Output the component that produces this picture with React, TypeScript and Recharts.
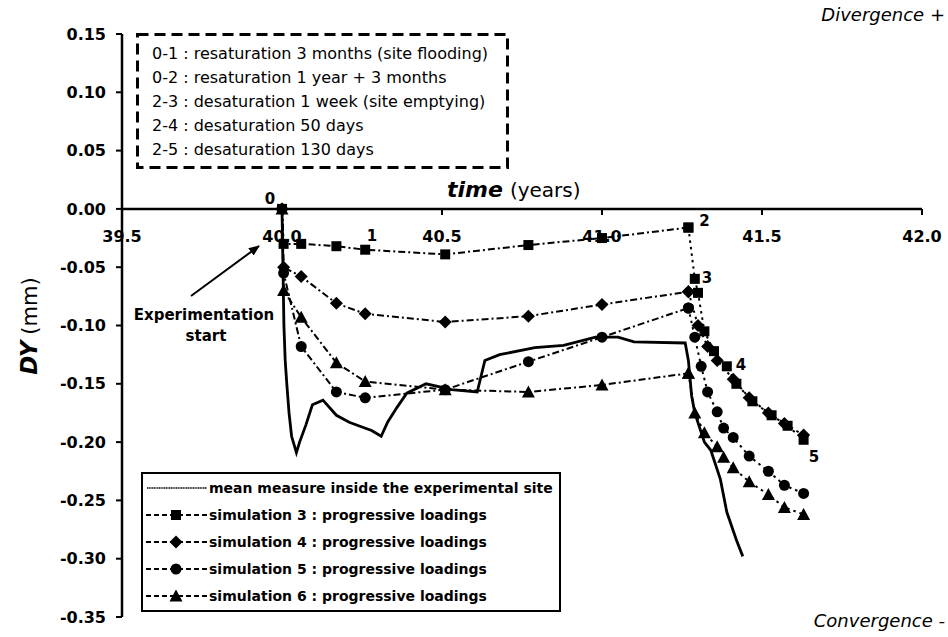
import React from 'react';
import { LineChart, Line, XAxis, YAxis, ReferenceLine, ReferenceDot, Legend } from 'recharts';

const FONT = '"DejaVu Sans", Verdana, sans-serif';

// axis ticks
const X_TICKS = [39.5, 40.0, 40.5, 41.0, 41.5, 42.0];
const Y_TICKS = [0.15, 0.1, 0.05, 0, -0.05, -0.1, -0.15, -0.2, -0.25, -0.3, -0.35];

// mean measure inside the experimental site
const MEAS_X = [40.0, 40.003, 40.006, 40.01, 40.015, 40.022, 40.03, 40.045, 40.055, 40.075, 40.095, 40.128, 40.17, 40.21, 40.25, 40.28, 40.31, 40.33, 40.36, 40.39, 40.45, 40.5, 40.53, 40.61, 40.634, 40.68, 40.79, 40.88, 40.98, 41.05, 41.1, 41.26, 41.27, 41.28, 41.29, 41.32, 41.34, 41.37, 41.39, 41.42, 41.44];
const MEAS_Y = [0, -0.05, -0.1, -0.13, -0.15, -0.175, -0.195, -0.209, -0.2, -0.185, -0.168, -0.164, -0.177, -0.183, -0.187, -0.19, -0.195, -0.183, -0.17, -0.158, -0.15, -0.153, -0.155, -0.157, -0.13, -0.125, -0.119, -0.117, -0.11, -0.11, -0.114, -0.115, -0.13, -0.16, -0.175, -0.2, -0.207, -0.232, -0.26, -0.284, -0.298];

// resaturation phase (0 -> 2)
const LOAD_X = [40.0, 40.005, 40.06, 40.17, 40.26, 40.51, 40.77, 41.0, 41.27];
const SIM3_LOAD = [0, -0.03, -0.03, -0.032, -0.035, -0.039, -0.031, -0.025, -0.016];
const SIM4_LOAD = [0, -0.05, -0.058, -0.081, -0.09, -0.097, -0.092, -0.082, -0.071];
const SIM5_LOAD = [0, -0.055, -0.118, -0.157, -0.162, -0.155, -0.131, -0.11, -0.085];
const SIM6_LOAD = [0, -0.07, -0.093, -0.132, -0.148, -0.155, -0.157, -0.151, -0.141];

// desaturation phase (2 -> 5)
const SIM3_DES_X = [41.27, 41.29, 41.3, 41.32, 41.35, 41.39, 41.42, 41.47, 41.53, 41.58, 41.63];
const SIM3_DES = [-0.016, -0.06, -0.072, -0.105, -0.122, -0.135, -0.15, -0.165, -0.177, -0.186, -0.198];
const SIM4_DES_X = [41.27, 41.3, 41.33, 41.36, 41.41, 41.46, 41.52, 41.57, 41.63];
const SIM4_DES = [-0.071, -0.1, -0.118, -0.13, -0.146, -0.162, -0.175, -0.184, -0.194];
const SIM5_DES_X = [41.27, 41.29, 41.31, 41.33, 41.36, 41.38, 41.41, 41.46, 41.52, 41.57, 41.63];
const SIM5_DES = [-0.085, -0.11, -0.135, -0.157, -0.174, -0.188, -0.196, -0.212, -0.225, -0.237, -0.244];
const SIM6_DES_X = [41.27, 41.29, 41.32, 41.36, 41.38, 41.41, 41.46, 41.52, 41.57, 41.63];
const SIM6_DES = [-0.141, -0.175, -0.192, -0.204, -0.213, -0.222, -0.234, -0.245, -0.256, -0.262];

const NOTES = [
  '0-1 : resaturation 3 months (site flooding)',
  '0-2 : resaturation 1 year + 3 months',
  '2-3 : desaturation 1 week (site emptying)',
  '2-4 : desaturation 50 days',
  '2-5 : desaturation 130 days',
];

const LEGEND_ITEMS = [
  { name: 'mean measure inside the experimental site', marker: 'none' },
  { name: 'simulation 3 : progressive loadings', marker: 'square' },
  { name: 'simulation 4 : progressive loadings', marker: 'diamond' },
  { name: 'simulation 5 : progressive loadings', marker: 'circle' },
  { name: 'simulation 6 : progressive loadings', marker: 'triangle' },
];

const zip = (xs: number[], ys: number[]) => xs.map((x, i) => ({ x, y: ys[i] }));

function markerShape(kind: string, cx: number, cy: number, key?: any) {
  if (kind === 'square') return <rect key={key} x={cx - 5} y={cy - 5} width={10} height={10} fill="#000" />;
  if (kind === 'diamond')
    return <polygon key={key} points={`${cx},${cy - 6.5} ${cx + 6.5},${cy} ${cx},${cy + 6.5} ${cx - 6.5},${cy}`} fill="#000" />;
  if (kind === 'circle') return <circle key={key} cx={cx} cy={cy} r={5.5} fill="#000" />;
  if (kind === 'triangle')
    return <polygon key={key} points={`${cx},${cy - 6.5} ${cx + 6.5},${cy + 5.5} ${cx - 6.5},${cy + 5.5}`} fill="#000" />;
  return null;
}

const dotOf = (kind: string) => (p: any) => {
  if (p.cx == null || p.cy == null) return <g key={p.index} />;
  return markerShape(kind, p.cx, p.cy, p.index);
};

function LegendBox() {
  return (
    <div
      style={{
        width: 420,
        height: 140,
        border: '2px solid #000',
        background: '#fff',
        boxSizing: 'border-box',
        fontFamily: FONT,
      }}
    >
      {LEGEND_ITEMS.map((it, i) => (
        <div key={i} style={{ height: 27.2, display: 'flex', alignItems: 'center' }}>
          <svg width={66} height={16} style={{ flex: 'none' }}>
            {it.marker === 'none' ? (
              <line x1={4} y1={8} x2={64} y2={8} stroke="#000" strokeWidth={1.6} strokeDasharray="1.2 0.5" />
            ) : (
              <>
                <line x1={3} y1={8} x2={64} y2={8} stroke="#000" strokeWidth={1.8} strokeDasharray="5 3" />
                {markerShape(it.marker, 33, 8)}
              </>
            )}
          </svg>
          <span style={{ fontSize: 14, fontWeight: 'bold', color: '#000', whiteSpace: 'nowrap' }}>{it.name}</span>
        </div>
      ))}
    </div>
  );
}

const xTick = (t: number) => (p: any) => (
  <g>
    <line x1={p.cx} y1={p.cy} x2={p.cx} y2={p.cy + 6} stroke="#000" strokeWidth={2} />
    <text x={p.cx} y={p.cy + 33} textAnchor="middle" fontSize={16} fontWeight="bold" fontFamily={FONT} fill="#000">
      {t.toFixed(1)}
    </text>
  </g>
);

const numLabel = (s: string) => (p: any) => (
  <text x={p.cx} y={p.cy} textAnchor="middle" dominantBaseline="central" fontSize={15} fontWeight="bold" fontFamily={FONT} fill="#000">
    {s}
  </text>
);

const LOAD_DASH = '7 3 2 3';
const DES_DASH = '2.5 4';

export default function App() {
  const series = [
    { id: 's3l', data: zip(LOAD_X, SIM3_LOAD), kind: 'square', dash: LOAD_DASH },
    { id: 's4l', data: zip(LOAD_X, SIM4_LOAD), kind: 'diamond', dash: LOAD_DASH },
    { id: 's5l', data: zip(LOAD_X, SIM5_LOAD), kind: 'circle', dash: LOAD_DASH },
    { id: 's6l', data: zip(LOAD_X, SIM6_LOAD), kind: 'triangle', dash: LOAD_DASH },
    { id: 's3d', data: zip(SIM3_DES_X, SIM3_DES), kind: 'square', dash: DES_DASH },
    { id: 's4d', data: zip(SIM4_DES_X, SIM4_DES), kind: 'diamond', dash: DES_DASH },
    { id: 's5d', data: zip(SIM5_DES_X, SIM5_DES), kind: 'circle', dash: DES_DASH },
    { id: 's6d', data: zip(SIM6_DES_X, SIM6_DES), kind: 'triangle', dash: DES_DASH },
  ];

  return (
    <div style={{ position: 'absolute', left: 0, top: 0, width: 948, height: 637, background: '#fff', overflow: 'hidden' }}>
      <LineChart width={948} height={637} margin={{ top: 34, right: 26, bottom: 20, left: 0 }}>
        <XAxis type="number" dataKey="x" domain={[39.5, 42]} hide allowDataOverflow />
        <YAxis
          type="number"
          domain={[-0.35, 0.15]}
          ticks={Y_TICKS}
          width={122}
          allowDataOverflow
          tickFormatter={(v: number) => v.toFixed(2)}
          axisLine={{ stroke: '#000', strokeWidth: 2.5 }}
          tickLine={{ stroke: '#000', strokeWidth: 2 }}
          tickSize={6}
          tickMargin={10}
          tick={{ fill: '#000', fontSize: 16, fontWeight: 'bold', fontFamily: FONT }}
        />
        <ReferenceLine y={0} stroke="#000" strokeWidth={2.5} ifOverflow="visible" />
        {X_TICKS.map((t) => (
          <ReferenceDot key={t} x={t} y={0} r={0} ifOverflow="visible" shape={xTick(t)} />
        ))}
        <Line
          data={zip(MEAS_X, MEAS_Y)}
          dataKey="y"
          type="linear"
          stroke="#000"
          strokeWidth={2.8}
          dot={false}
          legendType="none"
          isAnimationActive={false}
        />
        {series.map((s) => (
          <Line
            key={s.id}
            data={s.data}
            dataKey="y"
            type="linear"
            stroke="#000"
            strokeWidth={2}
            strokeDasharray={s.dash}
            dot={dotOf(s.kind)}
            legendType="none"
            isAnimationActive={false}
          />
        ))}
        <ReferenceDot x={39.9625} y={0.0086} r={0} ifOverflow="visible" shape={numLabel('0')} />
        <ReferenceDot x={40.281} y={-0.0232} r={0} ifOverflow="visible" shape={numLabel('1')} />
        <ReferenceDot x={41.32} y={-0.0103} r={0} ifOverflow="visible" shape={numLabel('2')} />
        <ReferenceDot x={41.328} y={-0.0592} r={0} ifOverflow="visible" shape={numLabel('3')} />
        <ReferenceDot x={41.434} y={-0.1338} r={0} ifOverflow="visible" shape={numLabel('4')} />
        <ReferenceDot x={41.6625} y={-0.2127} r={0} ifOverflow="visible" shape={numLabel('5')} />
        <Legend
          layout="vertical"
          align="center"
          verticalAlign="middle"
          wrapperStyle={{ left: 141, top: 472, width: 420 }}
          content={() => <LegendBox />}
        />
      </LineChart>

      <svg width={948} height={637} style={{ position: 'absolute', left: 0, top: 0, pointerEvents: 'none' }}>
        <defs>
          <marker id="ah" markerWidth="12" markerHeight="12" refX="10" refY="6" orient="auto" markerUnits="userSpaceOnUse">
            <path d="M0,1.5 L11,6 L0,10.5 z" fill="#000" />
          </marker>
        </defs>

        {/* dashed notes box */}
        <rect x={137.5} y={34.5} width={370} height={133} fill="#fff" stroke="#000" strokeWidth={3} strokeDasharray="11 6" />
        {NOTES.map((n, i) => (
          <text key={n} x={152} y={59 + i * 24} fontSize={16} fontFamily={FONT} fill="#000">
            {n}
          </text>
        ))}

        <line x1={191} y1={296} x2={259} y2={246} stroke="#000" strokeWidth={2} markerEnd="url(#ah)" />
        <text x={204} y={320} textAnchor="middle" fontSize={15} fontWeight="bold" fontFamily={FONT} fill="#000">
          Experimentation
        </text>
        <text x={206} y={341} textAnchor="middle" fontSize={15} fontWeight="bold" fontFamily={FONT} fill="#000">
          start
        </text>

        <text x={447} y={197} fontFamily={FONT} fill="#000">
          <tspan fontSize={22} fontWeight="bold" fontStyle="italic">time</tspan>
          <tspan fontSize={20} dx={7}>(years)</tspan>
        </text>
        <text transform="translate(37,326) rotate(-90)" textAnchor="middle" fontFamily={FONT} fill="#000">
          <tspan fontSize={23} fontWeight="bold" fontStyle="italic">DY</tspan>
          <tspan fontSize={21} dx={6}>(mm)</tspan>
        </text>
        <text x={945} y={21} textAnchor="end" fontSize={18} fontStyle="italic" fontFamily={FONT} fill="#000">
          Divergence +
        </text>
        <text x={945} y={627} textAnchor="end" fontSize={18} fontStyle="italic" fontFamily={FONT} fill="#000">
          Convergence -
        </text>
      </svg>
    </div>
  );
}
